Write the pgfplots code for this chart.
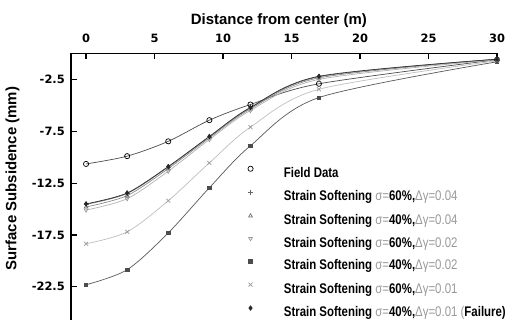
\documentclass[border=0pt]{standalone}
\usepackage{pgfplots}
\pgfplotsset{compat=1.18}
\usepackage{pgfplotstable}
\usepackage{fontspec}
\setmainfont{Liberation Sans}
\newfontfamily\tickfont{DejaVu Sans}
\newfontfamily\legfont{Liberation Sans}[FakeStretch=0.82]
\newcommand{\gp}[1]{{\mdseries\color{black!40}#1}}
\begin{document}
\begin{tikzpicture}
\pgfplotstableread{
x f a b c d e g
0  -10.65 -14.55 -14.8  -15.1  -22.3  -18.35 -14.5
3  -9.9   -13.5  -13.7  -14.0  -20.85 -17.2  -13.45
6  -8.47  -10.95 -11.1  -11.35 -17.3  -14.2  -10.9
9  -6.43  -8.05  -8.15  -8.3   -12.95 -10.55 -8.0
12 -4.92  -5.25  -5.35  -5.5   -8.9   -7.1   -5.2
17 -2.92  -2.25  -2.35  -2.5   -4.25  -3.45  -2.2
30 -0.6   -0.55  -0.55  -0.6   -0.8   -0.7   -0.55
}\data
\begin{axis}[name=A, scale only axis, width=426bp, height=266.5bp,
  xmin=-1.1, xmax=30, ymin=-25.7, ymax=0,
  axis x line*=top, axis y line*=left,
  axis line style={line width=1.5bp, -},
  tick align=inside, major tick length=6bp,
  xtick={5,15,25}, xticklabels={5,15,25},
  x tick style={draw=black, line width=1.2bp},
  extra x ticks={0,10,20,30}, extra x tick labels={0,10,20,30},
  extra x tick style={tick style={draw=none}},
  ytick={-22.5,-17.5,-12.5,-7.5,-2.5},
  yticklabels={-22.5,-17.5,-12.5,-7.5,-2.5},
  y tick style={draw=black, line width=1.2bp},
  ticklabel style={font=\tickfont\bfseries\fontsize{11.5}{12}\selectfont, inner sep=0pt},
  xticklabel shift=11bp, yticklabel shift=6bp,
  xlabel={Distance from center (m)},
  xlabel style={at={(axis description cs:0.488,1)}, anchor=base, yshift=28.5bp, font=\bfseries\fontsize{15}{15}\selectfont},
  ylabel={Surface Subsidence (mm)},
  ylabel style={at={(axis description cs:-0.1373,0.531)}, anchor=center, font=\bfseries\fontsize{15}{15}\selectfont},
  clip=false,
  legend cell align=left,
  legend image code/.code={\draw[#1] plot coordinates {(0bp,5bp)}; \path (-4bp,5bp) (33bp,5bp);},
  legend style={at={(axis description cs:0.4108,0.578)}, anchor=north west, draw=none, fill=none, inner sep=0pt,
    font=\legfont\bfseries\fontsize{14}{14}\selectfont, row sep=9.7bp, column sep=0bp,
    nodes={text height=10bp, text depth=3bp, inner sep=0pt}},
  every axis plot/.append style={smooth, tension=0.5, line width=0.7bp},
]
\addplot[black!70, mark=o, mark size=2.6bp, mark options={black, line width=0.7bp}, forget plot] table[x=x,y=f]{\data};
\addplot[black!55, mark=+, mark size=2.5bp, mark options={black!60}, forget plot] table[x=x,y=a]{\data};
\addplot[black!45, mark=triangle, mark size=2.2bp, mark options={black!55}, forget plot] table[x=x,y=b]{\data};
\addplot[black!30, mark=triangle, mark size=2.2bp, mark options={black!40, rotate=180}, forget plot] table[x=x,y=c]{\data};
\addplot[black!65, mark=square*, mark size=1.7bp, mark options={black!70}, forget plot] table[x=x,y=d]{\data};
\addplot[black!25, mark=x, mark size=2.8bp, mark options={black!40}, forget plot] table[x=x,y=e]{\data};
\addplot[black!80, mark=diamond*, mark size=2.2bp, mark options={black!85}, forget plot] table[x=x,y=g]{\data};
\addlegendimage{mark=o, mark size=2.6bp, black, line width=0.7bp}
\addlegendentry{Field Data}
\addlegendimage{mark=+, mark size=2.5bp, black!60}
\addlegendentry{Strain Softening \gp{σ=}60\%,\gp{Δγ=0.04}}
\addlegendimage{mark=triangle, mark size=2.2bp, black!55}
\addlegendentry{Strain Softening \gp{σ=}40\%,\gp{Δγ=0.04}}
\addlegendimage{mark=triangle, mark size=2.2bp, black!40, mark options={rotate=180}}
\addlegendentry{Strain Softening \gp{σ=}60\%,\gp{Δγ=0.02}}
\addlegendimage{mark=square*, mark size=1.7bp, black!70}
\addlegendentry{Strain Softening \gp{σ=}40\%,\gp{Δγ=0.02}}
\addlegendimage{mark=x, mark size=2.8bp, black!40}
\addlegendentry{Strain Softening \gp{σ=}60\%,\gp{Δγ=0.01}}
\addlegendimage{mark=diamond*, mark size=2.2bp, black!85}
\addlegendentry{Strain Softening \gp{σ=}40\%,\gp{Δγ=0.01 (}Failure)}
\end{axis}
\pgfresetboundingbox
\path[use as bounding box] ([xshift=-71bp]A.south west) rectangle ([xshift=8bp,yshift=53.5bp]A.north east);
\end{tikzpicture}
\end{document}
